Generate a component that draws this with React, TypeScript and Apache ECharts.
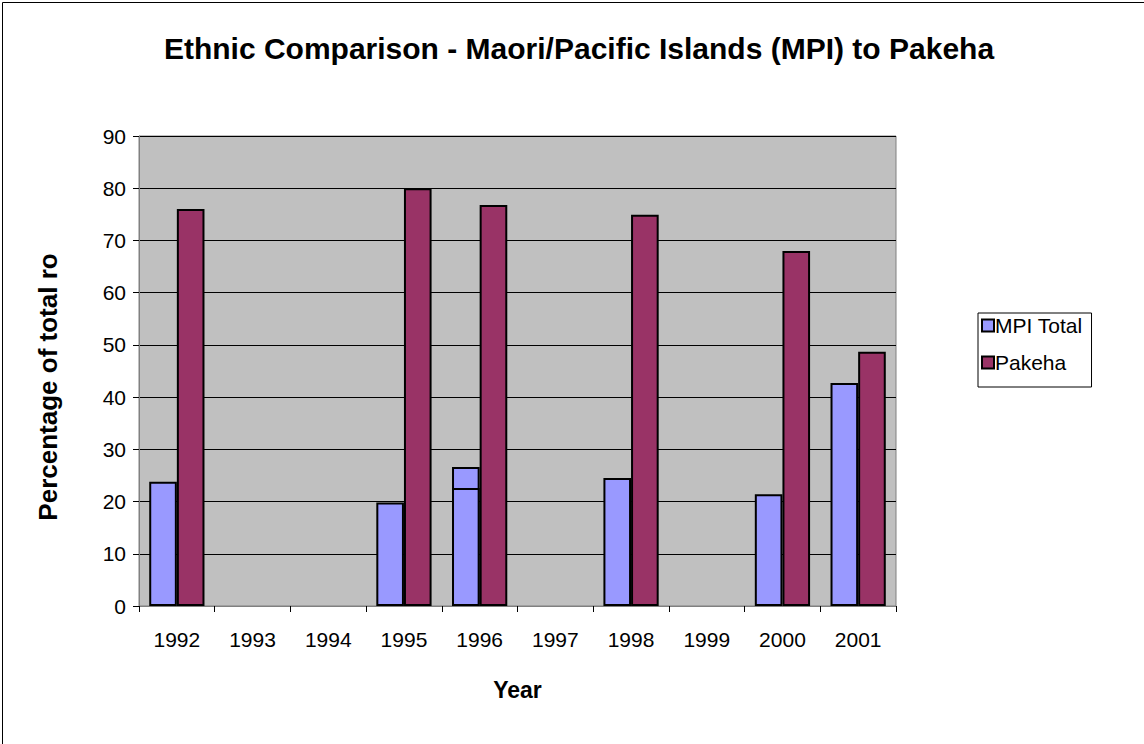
import React, { useEffect, useRef } from "react";
import * as echarts from "echarts";

// Survey years shown along the category axis
const years = ["1992", "1993", "1994", "1995", "1996", "1997", "1998", "1999", "2000", "2001"];
// Percentage of the total roll, by ethnic group (null = no survey that year)
const mpiTotal = [23.8, null, null, 19.8, 26.6, null, 24.5, null, 21.4, 42.7];
const pakeha = [76, null, null, 80, 76.8, null, 74.9, null, 68, 48.7];
// Second MPI figure recorded for 1996, drawn over the MPI total bar
const mpiSecond = [null, null, null, null, 22.6, null, null, null, null, null];
const yTicks = [0, 10, 20, 30, 40, 50, 60, 70, 80, 90];

const FONT = "Arial, 'Liberation Sans', sans-serif";

export default function App() {
  const ref = useRef<HTMLDivElement>(null);

  useEffect(() => {
    if (!ref.current) return;
    const chart = echarts.init(ref.current, undefined, { renderer: "svg" });
    const barBase = {
      type: "bar" as const,
      barGap: "0%",
      barCategoryGap: "27%",
      itemStyle: { borderColor: "#000", borderWidth: 2 },
    };
    chart.setOption({
      animation: false,
      backgroundColor: "#ffffff",
      title: {
        text: "Ethnic Comparison - Maori/Pacific Islands (MPI) to Pakeha",
        left: 574,
        top: 28,
        textAlign: "center",
        textStyle: { fontFamily: FONT, fontSize: 30, fontWeight: "bold", color: "#000" },
      },
      legend: {
        data: ["MPI Total", "Pakeha"],
        orient: "vertical",
        left: 978,
        top: 313,
        borderColor: "#000",
        borderWidth: 1,
        borderRadius: 0,
        padding: [2, 9, 14, 3],
        itemWidth: 12,
        itemHeight: 12,
        itemGap: 16,
        icon: "rect",
        textStyle: { fontFamily: FONT, fontSize: 21, color: "#000", padding: [0, 0, 0, -4] },
      },
      grid: {
        left: 139,
        top: 136,
        width: 757,
        height: 470,
        show: true,
        backgroundColor: "#c0c0c0",
        borderColor: "#808080",
        borderWidth: 1,
      },
      xAxis: [
        {
          type: "category",
          data: years,
          name: "Year",
          nameLocation: "middle",
          nameGap: 72,
          nameTextStyle: { fontFamily: FONT, fontSize: 23, fontWeight: "bold", color: "#000" },
          axisLine: { show: true, lineStyle: { color: "#808080", width: 1 } },
          axisTick: { show: true, length: 6, alignWithLabel: false, lineStyle: { color: "#000" } },
          axisLabel: { fontFamily: FONT, fontSize: 21, color: "#000", margin: 23 },
        },
        {
          type: "category",
          data: years,
          show: false,
        },
      ],
      yAxis: {
        type: "value",
        min: yTicks[0],
        max: yTicks[yTicks.length - 1],
        interval: 10,
        axisLine: { show: true, lineStyle: { color: "#808080", width: 1 } },
        axisTick: { show: true, length: 6, lineStyle: { color: "#000" } },
        axisLabel: { fontFamily: FONT, fontSize: 21, color: "#000", margin: 13 },
        splitLine: { show: true, lineStyle: { color: "#000", width: 1 } },
      },
      series: [
        { ...barBase, name: "MPI Total", data: mpiTotal, itemStyle: { ...barBase.itemStyle, color: "#9999ff" } },
        { ...barBase, name: "Pakeha", data: pakeha, itemStyle: { ...barBase.itemStyle, color: "#993366" } },
        {
          ...barBase,
          name: "MPI 1996 second figure",
          xAxisIndex: 1,
          z: 3,
          data: mpiSecond,
          itemStyle: { ...barBase.itemStyle, color: "#9999ff" },
        },
        {
          ...barBase,
          name: "slot",
          xAxisIndex: 1,
          data: years.map(() => null),
          itemStyle: { ...barBase.itemStyle, color: "transparent" },
        },
      ],
      graphic: [
        {
          type: "rect",
          left: 0,
          top: 0,
          shape: { x: 0.5, y: 0.5, width: 1142, height: 742 },
          style: { fill: "none", stroke: "#000", lineWidth: 1 },
          silent: true,
        },
        {
          // y-axis title, rotated to read bottom-to-top
          type: "text",
          x: 48,
          y: 387,
          rotation: Math.PI / 2,
          silent: true,
          style: {
            text: "Percentage of total ro",
            fontFamily: FONT,
            fontSize: 26,
            fontWeight: "bold",
            fill: "#000",
            align: "center",
            verticalAlign: "middle",
          },
        },
      ],
    });
    return () => chart.dispose();
  }, []);

  return (
    <div
      ref={ref}
      style={{ position: "fixed", left: 0, top: 0, width: 1144, height: 744 }}
    />
  );
}
